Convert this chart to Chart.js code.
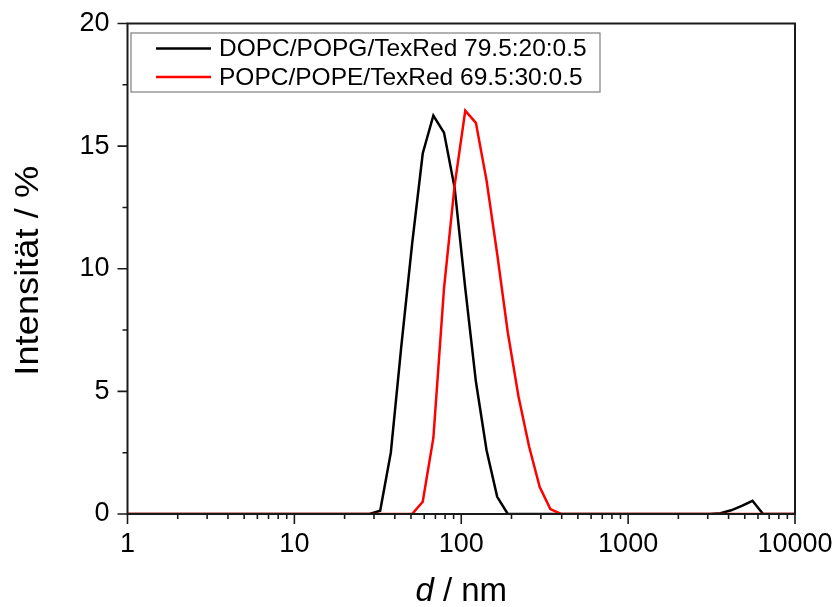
<!DOCTYPE html>
<html>
<head>
<meta charset="utf-8">
<script src="https://cdn.jsdelivr.net/npm/chart.js@4/dist/chart.umd.min.js"></script>
<style>
  html, body { margin: 0; padding: 0; background: #fff; }
  #wrap { width: 835px; height: 607px; }
</style>
</head>
<body>
<div id="wrap"><canvas id="chart" width="835" height="607"></canvas></div>
<script>
// DLS size bins (nm)
const sizes = [0.9649, 1.117, 1.294, 1.499, 1.736, 2.01, 2.328, 2.696, 3.122, 3.615,
  4.187, 4.849, 5.615, 6.503, 7.531, 8.721, 10.1, 11.7, 13.54, 15.69,
  18.17, 21.04, 24.36, 28.21, 32.67, 37.84, 43.82, 50.75, 58.77, 68.06,
  78.82, 91.28, 105.7, 122.4, 141.8, 164.2, 190.1, 220.2, 255, 295.3,
  342, 396.1, 458.7, 531.2, 615.1, 712.4, 825, 955.4, 1106, 1281,
  1484, 1718, 1990, 2305, 2669, 3091, 3580, 4145, 4801, 5560,
  6439, 7456, 8635, 10000];

// Intensität (%) per bin
const dopcPopg = [0, 0, 0, 0, 0, 0, 0, 0, 0, 0,
  0, 0, 0, 0, 0, 0, 0, 0, 0, 0,
  0, 0, 0, 0, 0.13, 2.5, 6.9, 11.0, 14.7, 16.25,
  15.55, 13.3, 9.2, 5.4, 2.6, 0.7, 0, 0, 0, 0,
  0, 0, 0, 0, 0, 0, 0, 0, 0, 0,
  0, 0, 0, 0, 0, 0.0, 0.03, 0.15, 0.33, 0.54,
  0, 0, 0, 0];

const popcPope = [0, 0, 0, 0, 0, 0, 0, 0, 0, 0,
  0, 0, 0, 0, 0, 0, 0, 0, 0, 0,
  0, 0, 0, 0, 0, 0, 0, 0, 0.5, 3.1,
  9.2, 13.4, 16.45, 15.95, 13.6, 10.6, 7.4, 4.8, 2.75, 1.1,
  0.2, 0, 0, 0, 0, 0, 0, 0, 0, 0,
  0, 0, 0, 0, 0, 0, 0, 0, 0, 0,
  0, 0, 0, 0];

const seriesLabels = ["DOPC/POPG/TexRed 79.5:20:0.5", "POPC/POPE/TexRed 69.5:30:0.5"];
const seriesColors = ["#000000", "#ff0000"];
const xTickValues = [1, 10, 100, 1000, 10000];
const yTickValues = [0, 5, 10, 15, 20];
const yMinorValues = [2.5, 7.5, 12.5, 17.5];

const FONT = "'Liberation Sans', Arial, sans-serif";

function toPoints(ys) {
  return sizes.map((x, i) => ({ x: x, y: ys[i] }));
}

// frame, tick marks, axis titles and legend box
const decorations = {
  id: "decorations",
  afterDraw(chart) {
    const ctx = chart.ctx;
    const a = chart.chartArea;
    const xs = chart.scales.x, ys = chart.scales.y;
    ctx.save();
    ctx.strokeStyle = "#1a1a1a";
    ctx.lineWidth = 1.6;

    // x ticks (outward)
    ctx.beginPath();
    xTickValues.forEach((v, i) => {
      const px = xs.getPixelForValue(v);
      ctx.moveTo(px, a.bottom); ctx.lineTo(px, a.bottom + 10);
      if (i < xTickValues.length - 1) {
        for (let m = 2; m <= 9; m++) {
          const mx = xs.getPixelForValue(v * m);
          ctx.moveTo(mx, a.bottom); ctx.lineTo(mx, a.bottom + 5);
        }
      }
    });
    // y ticks (outward)
    yTickValues.forEach(v => {
      const py = ys.getPixelForValue(v);
      ctx.moveTo(a.left, py); ctx.lineTo(a.left - 10, py);
    });
    yMinorValues.forEach(v => {
      const py = ys.getPixelForValue(v);
      ctx.moveTo(a.left, py); ctx.lineTo(a.left - 5, py);
    });
    ctx.stroke();

    // frame
    ctx.lineWidth = 2;
    ctx.strokeRect(a.left, a.top, a.right - a.left, a.bottom - a.top);

    // y title
    ctx.fillStyle = "#000";
    ctx.font = "33px " + FONT;
    ctx.textAlign = "center";
    ctx.textBaseline = "alphabetic";
    ctx.save();
    ctx.translate(38, (a.top + a.bottom) / 2 + 2);
    ctx.rotate(-Math.PI / 2);
    ctx.scale(1.1, 1);
    ctx.fillText("Intensität / %", 0, 0);
    ctx.restore();

    // x title: italic d + " / nm"
    const cx = (a.left + a.right) / 2;
    ctx.font = "italic 33px " + FONT;
    const w1 = ctx.measureText("d").width;
    ctx.font = "33px " + FONT;
    const w2 = ctx.measureText(" / nm").width;
    const x0 = cx - (w1 + w2) / 2;
    ctx.textAlign = "left";
    ctx.font = "italic 33px " + FONT;
    ctx.fillText("d", x0, 601);
    ctx.font = "33px " + FONT;
    ctx.fillText(" / nm", x0 + w1, 601);

    // legend
    ctx.strokeStyle = "#7f7f7f";
    ctx.lineWidth = 1.2;
    ctx.strokeRect(131, 33, 469, 59);
    ctx.font = "24.5px " + FONT;
    ctx.textBaseline = "middle";
    const rows = [48.5, 77];
    chart.data.datasets.forEach((ds, i) => {
      ctx.strokeStyle = ds.borderColor;
      ctx.lineWidth = 2.5;
      ctx.beginPath();
      ctx.moveTo(156, rows[i]); ctx.lineTo(211, rows[i]);
      ctx.stroke();
      ctx.fillStyle = "#000";
      ctx.fillText(ds.label, 219, rows[i] + 1);
    });
    ctx.restore();
  }
};

const ctx = document.getElementById("chart").getContext("2d");
new Chart(ctx, {
  type: "scatter",
  data: {
    datasets: [
      { label: seriesLabels[0], data: toPoints(dopcPopg), borderColor: seriesColors[0],
        backgroundColor: seriesColors[0], showLine: true, borderWidth: 2.5, pointRadius: 0, order: 2 },
      { label: seriesLabels[1], data: toPoints(popcPope), borderColor: seriesColors[1],
        backgroundColor: seriesColors[1], showLine: true, borderWidth: 2.5, pointRadius: 0, order: 1 }
    ]
  },
  options: {
    responsive: false,
    animation: false,
    devicePixelRatio: 1,
    layout: { padding: { top: 23.5, right: 40, left: 0, bottom: 0 } },
    plugins: { legend: { display: false }, tooltip: { enabled: false } },
    scales: {
      x: {
        type: "logarithmic",
        min: 1, max: 10000,
        afterBuildTicks: s => { s.ticks = xTickValues.map(v => ({ value: v })); },
        afterFit: s => { s.height = 93; s.paddingLeft = 0; s.paddingRight = 0; },
        grid: { display: false, drawTicks: false },
        border: { display: false },
        ticks: {
          callback: v => String(v),
          autoSkip: false, maxRotation: 0,
          color: "#000", padding: 14,
          font: { family: FONT, size: 27 }
        }
      },
      y: {
        min: 0, max: 20,
        afterBuildTicks: s => { s.ticks = yTickValues.map(v => ({ value: v })); },
        afterFit: s => { s.width = 127.5; s.paddingTop = 0; s.paddingBottom = 0; },
        grid: { display: false, drawTicks: false },
        border: { display: false },
        ticks: {
          color: "#000", padding: 18,
          font: { family: FONT, size: 27 }
        }
      }
    }
  },
  plugins: [decorations]
});
</script>
</body>
</html>
